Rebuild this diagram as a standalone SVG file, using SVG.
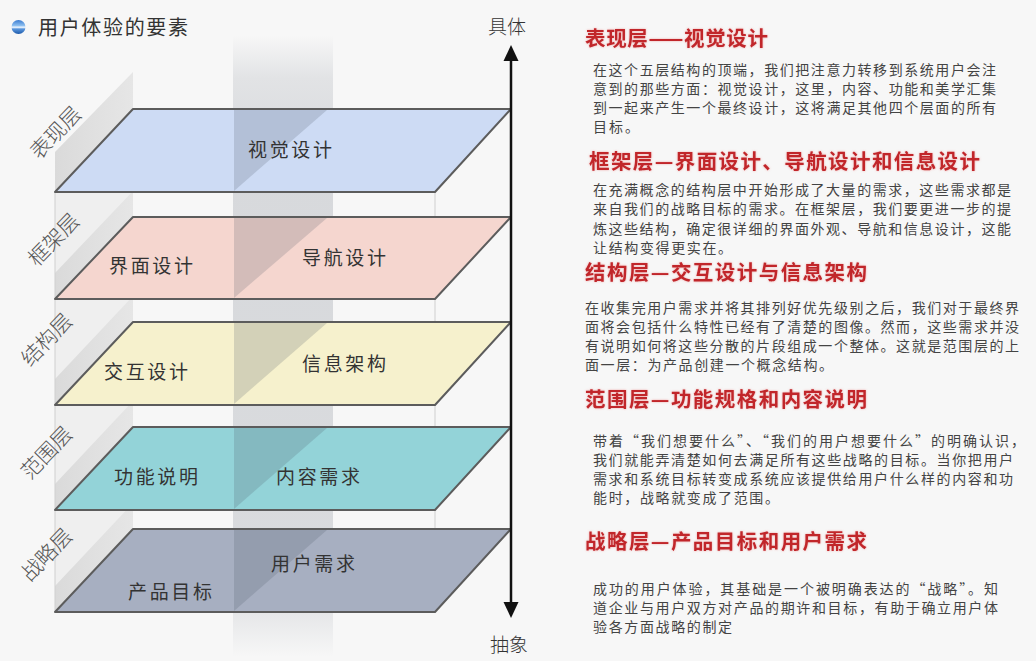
<svg xmlns="http://www.w3.org/2000/svg" width="1036" height="661" viewBox="0 0 1036 661">
<defs>
<style>
.cjk{font-family:"Noto Sans CJK SC","Noto Sans",sans-serif;}
.title{font-size:20px;fill:#333;}
.axis{font-size:19px;fill:#333;font-weight:300;}
.side{font-size:21px;fill:#555;font-weight:300;text-anchor:middle;}
.lbl{font-size:19px;fill:#333;text-anchor:middle;}
.plane{stroke:#5c5c5c;stroke-width:2;stroke-linejoin:round;}
.shade{fill:#4a5566;fill-opacity:0.2;}
.wall{fill:url(#stripG);}
.edge{stroke:#cfcfcf;stroke-width:1;}
.head{font-size:20.5px;font-weight:700;fill:#c1252b;filter:url(#glow);}
.body{font-size:14px;fill:#444;}
</style>
<linearGradient id="bandG" x1="0" y1="0" x2="0" y2="1">
<stop offset="0" stop-color="#8d939d" stop-opacity="0"/>
<stop offset="0.07" stop-color="#8d939d" stop-opacity="0.2"/>
<stop offset="0.2" stop-color="#8d939d" stop-opacity="0.3"/>
<stop offset="0.88" stop-color="#8d939d" stop-opacity="0.28"/>
<stop offset="1" stop-color="#8d939d" stop-opacity="0"/>
</linearGradient>
<linearGradient id="stripG" x1="0" y1="0" x2="1" y2="0">
<stop offset="0" stop-color="#dadada"/>
<stop offset="1" stop-color="#e6e6e6"/>
</linearGradient>
<linearGradient id="bulletG" x1="0" y1="0" x2="0" y2="1">
<stop offset="0" stop-color="#3a7bd0"/>
<stop offset="0.4" stop-color="#8dbff0"/>
<stop offset="0.52" stop-color="#f2f8ff"/>
<stop offset="0.64" stop-color="#5a96dc"/>
<stop offset="1" stop-color="#1d5aab"/>
</linearGradient>
<filter id="glow" x="-5%" y="-30%" width="110%" height="160%">
<feDropShadow dx="0" dy="0" stdDeviation="1.3" flood-color="#e86a6a" flood-opacity="0.55"/>
</filter>
</defs>
<rect width="1036" height="661" fill="#f7f7f7"/>

<g id="title">
<circle cx="18.5" cy="27" r="7" fill="url(#bulletG)"/>
<text class="cjk title" x="38" y="35" textLength="150">用户体验的要素</text>
</g>

<g id="backdrop">
<rect x="55" y="192" width="78" height="420" fill="#efefef"/>
<polygon class="wall" points="55,152 133,72 133,109 55,192"/>
<polygon class="wall" points="55,273 133,191 133,217 55,299"/>
<polygon class="wall" points="55,379 133,296 133,322 55,405"/>
<polygon class="wall" points="55,484 133,401 133,427 55,510"/>
<polygon class="wall" points="55,586 133,503 133,529 55,612"/>
<rect x="233" y="35" width="100" height="622" fill="url(#bandG)"/>
<line class="edge" x1="55" y1="192" x2="55" y2="612"/>
<line class="edge" x1="435" y1="192" x2="435" y2="612"/>
</g>

<g id="layer-presentation">
<polygon class="plane" points="133,109 511,109 435,192 55,192" fill="#cddbf4"/>
<polygon class="shade" points="234,110 327,110 234,191"/>
<text class="cjk side" x="56" y="140" transform="rotate(-46 56 133)">表现层</text>
<text class="cjk lbl" x="290" y="157" textLength="84">视觉设计</text>
</g>

<g id="layer-skeleton">
<polygon class="plane" points="133,217 511,217 435,299 55,299" fill="#f5d6cf"/>
<polygon class="shade" points="234,218 327,218 234,298"/>
<text class="cjk side" x="54" y="247" transform="rotate(-46 54 240)">框架层</text>
<text class="cjk lbl" x="151" y="273" textLength="84">界面设计</text>
<text class="cjk lbl" x="344" y="265" textLength="84">导航设计</text>
</g>

<g id="layer-structure">
<polygon class="plane" points="133,322 511,322 435,405 55,405" fill="#f6f1cd"/>
<polygon class="shade" points="234,323 327,323 234,404"/>
<text class="cjk side" x="47" y="347" transform="rotate(-46 47 340)">结构层</text>
<text class="cjk lbl" x="146" y="379" textLength="84">交互设计</text>
<text class="cjk lbl" x="344" y="371" textLength="84">信息架构</text>
</g>

<g id="layer-scope">
<polygon class="plane" points="133,427 511,427 435,510 55,510" fill="#93d3d8"/>
<polygon class="shade" points="234,428 327,428 234,509"/>
<text class="cjk side" x="47" y="460" transform="rotate(-46 47 453)">范围层</text>
<text class="cjk lbl" x="156" y="484" textLength="84">功能说明</text>
<text class="cjk lbl" x="318" y="484" textLength="84">内容需求</text>
</g>

<g id="layer-strategy">
<polygon class="plane" points="133,529 511,529 435,612 55,612" fill="#a7afc1"/>
<polygon class="shade" points="234,530 327,530 234,611"/>
<text class="cjk side" x="47" y="562" transform="rotate(-46 47 555)">战略层</text>
<text class="cjk lbl" x="313" y="571" textLength="84">用户需求</text>
<text class="cjk lbl" x="170" y="599" textLength="84">产品目标</text>
</g>

<g id="connectors">
<line x1="511" y1="58" x2="511" y2="605" stroke="#111" stroke-width="2.5"/>
<polygon points="511,45 503.5,61 518.5,61" fill="#111"/>
<polygon points="511,618 503.5,602 518.5,602" fill="#111"/>
</g>

<g id="axis-labels">
<text class="cjk axis" x="507" y="34" text-anchor="middle">具体</text>
<text class="cjk axis" x="509" y="652" text-anchor="middle">抽象</text>
</g>

<g id="desc-presentation">
<text class="cjk head" x="585" y="45.5" textLength="183">表现层——视觉设计</text>
<text class="cjk body" x="593" y="74.5" textLength="403">在这个五层结构的顶端，我们把注意力转移到系统用户会注</text>
<text class="cjk body" x="593" y="93.5" textLength="403">意到的那些方面：视觉设计，这里，内容、功能和美学汇集</text>
<text class="cjk body" x="593" y="112.5" textLength="403">到一起来产生一个最终设计，这将满足其他四个层面的所有</text>
<text class="cjk body" x="593" y="131.5" textLength="46">目标。</text>
</g>

<g id="desc-skeleton">
<text class="cjk head" x="589" y="168.5" textLength="391">框架层—界面设计、导航设计和信息设计</text>
<text class="cjk body" x="593" y="194.5" textLength="418">在充满概念的结构层中开始形成了大量的需求，这些需求都是</text>
<text class="cjk body" x="593" y="214" textLength="418">来自我们的战略目标的需求。在框架层，我们要更进一步的提</text>
<text class="cjk body" x="593" y="233.5" textLength="418">炼这些结构，确定很详细的界面外观、导航和信息设计，这能</text>
<text class="cjk body" x="593" y="253" textLength="139">让结构变得更实在。</text>
</g>

<g id="desc-structure">
<text class="cjk head" x="585" y="279.5" textLength="282">结构层—交互设计与信息架构</text>
<text class="cjk body" x="585" y="312.5" textLength="434">在收集完用户需求并将其排列好优先级别之后，我们对于最终界</text>
<text class="cjk body" x="585" y="331.5" textLength="434">面将会包括什么特性已经有了清楚的图像。然而，这些需求并没</text>
<text class="cjk body" x="585" y="350.5" textLength="434">有说明如何将这些分散的片段组成一个整体。这就是范围层的上</text>
<text class="cjk body" x="585" y="369.5" textLength="248">面一层：为产品创建一个概念结构。</text>
</g>

<g id="desc-scope">
<text class="cjk head" x="585" y="406.5" textLength="282">范围层—功能规格和内容说明</text>
<text class="cjk body" x="593" y="445.5" textLength="432">带着“我们想要什么”、“我们的用户想要什么”的明确认识，</text>
<text class="cjk body" x="593" y="465" textLength="420">我们就能弄清楚如何去满足所有这些战略的目标。当你把用户</text>
<text class="cjk body" x="593" y="484" textLength="420">需求和系统目标转变成系统应该提供给用户什么样的内容和功</text>
<text class="cjk body" x="593" y="503" textLength="186">能时，战略就变成了范围。</text>
</g>

<g id="desc-strategy">
<text class="cjk head" x="585" y="548.5" textLength="282">战略层—产品目标和用户需求</text>
<text class="cjk body" x="593" y="593.5" textLength="405">成功的用户体验，其基础是一个被明确表达的“战略”。知</text>
<text class="cjk body" x="593" y="612.5" textLength="405">道企业与用户双方对产品的期许和目标，有助于确立用户体</text>
<text class="cjk body" x="593" y="631.5" textLength="139">验各方面战略的制定</text>
</g>
</svg>
